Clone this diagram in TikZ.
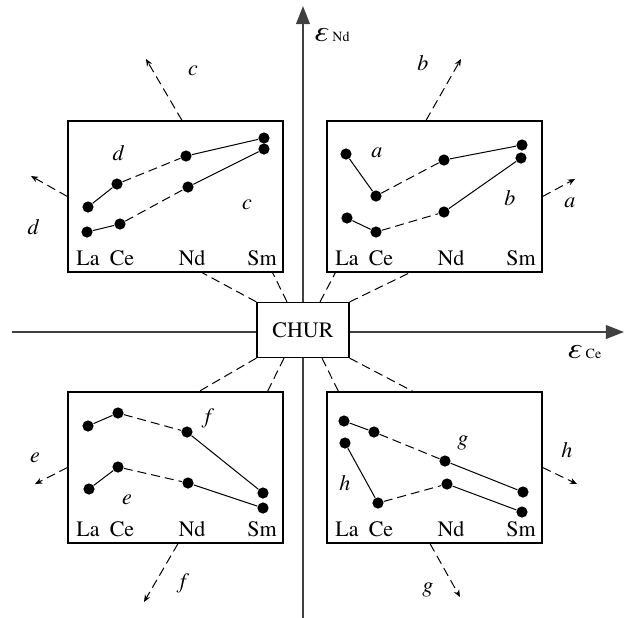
\documentclass[tikz,border=0pt]{standalone}
\usepackage{fontspec}
\setmainfont{TeX Gyre Termes}
\usetikzlibrary{arrows.meta,positioning,calc}

\newcommand{\epsaxis}[1]{\textit{\fontsize{15}{15}\selectfont ε}\,{\fontsize{7}{8}\selectfont #1}}

\begin{document}
\begin{tikzpicture}[
  x=0.5pt, y=-0.5pt,
  every node/.style = {font=\fontsize{11}{13}\selectfont\rmfamily},
  axis/.style   = {draw=black!75, line width=0.9pt,
                   -{Triangle[length=9pt,width=6.8pt]}},
  panel/.style  = {draw, line width=0.6pt, inner sep=0pt,
                   minimum width=107.5pt, minimum height=75.5pt},
  ptdot/.style  = {circle, fill, inner sep=0pt, minimum size=5.6pt},
  link/.style   = {line width=0.5pt, dash pattern=on 4.5pt off 2.5pt},
  trend/.style  = {link, -{Stealth[length=3.6pt,width=3pt]}},
  tag/.style    = {font=\fontsize{11}{13}\selectfont\itshape, inner sep=1pt},
  elem/.style   = {inner sep=0pt, anchor=base},
]
\useasboundingbox (0,0) rectangle (629,618);

%% ── Panel corner positions ───────────────────────────────────────────────────
\def\xA{68}   % left column
\def\xB{327}  % right column
\def\yA{121}  % upper row
\def\yB{392}  % lower row

%% ── Axes and CHUR ────────────────────────────────────────────────────────────
\coordinate (xstart) at (12,332);
\coordinate (xend)   at (624,332);
\coordinate (ystart) at (303,618);
\coordinate (yend)   at (303,6);
\draw[axis] (xstart) -- (xend);
\draw[axis] (ystart) -- (yend);
\node[anchor=west, inner sep=0pt] (epsnd) at (313,35) {\epsaxis{Nd}};
\node[inner sep=0pt] (epsce) at (584,352) {\epsaxis{Ce}};
\node[draw, fill=white, line width=0.6pt, minimum width=46pt, minimum height=27.5pt]
  (chur) at (303,330) {CHUR};

%% ── Panel boxes ──────────────────────────────────────────────────────────────
\node[panel] (ul) at (\xA+107.5,\yA+75.5) {};
\node[panel] (ur) at (\xB+107.5,\yA+75.5) {};
\node[panel] (ll) at (\xA+107.5,\yB+75.5) {};
\node[panel] (lr) at (\xB+107.5,\yB+75.5) {};

%% ── Links from CHUR to the panels ────────────────────────────────────────────
\draw[link] (chur.north west) -- ($(ul.south)+(26.5,0)$);
\draw[link] ($(chur.north)+(-16,0)$) -- ($(ul.south east)+(-11,0)$);
\draw[link] ($(chur.north)+(17,0)$) -- ($(ur.south west)+(9,0)$);
\draw[link] (chur.north east) -- ($(ur.south)+(-24.5,0)$);
\draw[link] (chur.south west) -- ($(ll.north)+(23.5,0)$);
\draw[link] ($(chur.south)+(-19,0)$) -- ($(ll.north east)+(-16,0)$);
\draw[link] ($(chur.south)+(19,0)$) -- ($(lr.north west)+(12,0)$);
\draw[link] (chur.south east) -- ($(lr.north)+(-21.5,0)$);

%% ── Element names under each panel ───────────────────────────────────────────
\foreach \p/\x/\y in {ul/\xA/\yA, ur/\xB/\yA, ll/\xA/\yB, lr/\xB/\yB} {
  \node[elem] (\p La) at (\x+20,\y+144) {La};
  \node[elem] (\p Ce) at (\x+54,\y+144) {Ce};
  \node[elem] (\p Nd) at (\x+124,\y+144) {Nd};
  \node[elem] (\p Sm) at (\x+194,\y+144) {Sm};
}

%% ── Upper left panel: c and d ────────────────────────────────────────────────
\node[ptdot] (ulLa1) at (\xA+20,\yA+86) {};
\node[ptdot] (ulCe1) at (\xA+49,\yA+63) {};
\node[ptdot] (ulNd1) at (\xA+118,\yA+35) {};
\node[ptdot] (ulSm1) at (\xA+196,\yA+17) {};
\node[ptdot] (ulLa2) at (\xA+19,\yA+111) {};
\node[ptdot] (ulCe2) at (\xA+52,\yA+103) {};
\node[ptdot] (ulNd2) at (\xA+120,\yA+66) {};
\node[ptdot] (ulSm2) at (\xA+196,\yA+28) {};
\draw[line width=0.5pt] (ulLa1) -- (ulCe1) (ulNd1) -- (ulSm1)
                        (ulLa2) -- (ulCe2) (ulNd2) -- (ulSm2);
\draw[link] (ulCe1) -- (ulNd1) (ulCe2) -- (ulNd2);
\node[tag] (ultagd) at (\xA+50,\yA+32) {d};
\node[tag] (ultagc) at (\xA+179,\yA+84) {c};

%% ── Upper right panel: a and b ───────────────────────────────────────────────
\node[ptdot] (urLa1) at (\xB+19,\yA+33) {};
\node[ptdot] (urCe1) at (\xB+49,\yA+75) {};
\node[ptdot] (urNd1) at (\xB+117,\yA+39) {};
\node[ptdot] (urSm1) at (\xB+195,\yA+24) {};
\node[ptdot] (urLa2) at (\xB+20,\yA+97) {};
\node[ptdot] (urCe2) at (\xB+49,\yA+111) {};
\node[ptdot] (urNd2) at (\xB+117,\yA+91) {};
\node[ptdot] (urSm2) at (\xB+194,\yA+37) {};
\draw[line width=0.5pt] (urLa1) -- (urCe1) (urNd1) -- (urSm1)
                        (urLa2) -- (urCe2) (urNd2) -- (urSm2);
\draw[link] (urCe1) -- (urNd1) (urCe2) -- (urNd2);
\node[tag] (urtaga) at (\xB+50,\yA+32) {a};
\node[tag] (urtagb) at (\xB+183,\yA+77) {b};

%% ── Lower left panel: e and f ────────────────────────────────────────────────
\node[ptdot] (llLa1) at (\xA+20,\yB+34) {};
\node[ptdot] (llCe1) at (\xA+50,\yB+21) {};
\node[ptdot] (llNd1) at (\xA+119,\yB+40) {};
\node[ptdot] (llSm1) at (\xA+195,\yB+101) {};
\node[ptdot] (llLa2) at (\xA+21,\yB+97) {};
\node[ptdot] (llCe2) at (\xA+50,\yB+75) {};
\node[ptdot] (llNd2) at (\xA+120,\yB+91) {};
\node[ptdot] (llSm2) at (\xA+195,\yB+116) {};
\draw[line width=0.5pt] (llLa1) -- (llCe1) (llNd1) -- (llSm1)
                        (llLa2) -- (llCe2) (llNd2) -- (llSm2);
\draw[link] (llCe1) -- (llNd1) (llCe2) -- (llNd2);
\node[tag] (lltagf) at (\xA+140,\yB+26) {f};
\node[tag] (lltage) at (\xA+59,\yB+108) {e};

%% ── Lower right panel: g and h ───────────────────────────────────────────────
\node[ptdot] (lrLa1) at (\xB+17,\yB+29) {};
\node[ptdot] (lrCe1) at (\xB+47,\yB+40) {};
\node[ptdot] (lrNd1) at (\xB+118,\yB+69) {};
\node[ptdot] (lrSm1) at (\xB+196,\yB+100) {};
\node[ptdot] (lrLa2) at (\xB+18,\yB+51) {};
\node[ptdot] (lrCe2) at (\xB+51,\yB+111) {};
\node[ptdot] (lrNd2) at (\xB+120,\yB+92) {};
\node[ptdot] (lrSm2) at (\xB+195,\yB+120) {};
\draw[line width=0.5pt] (lrLa1) -- (lrCe1) (lrNd1) -- (lrSm1)
                        (lrLa2) -- (lrCe2) (lrNd2) -- (lrSm2);
\draw[link] (lrCe1) -- (lrNd1) (lrCe2) -- (lrNd2);
\node[tag] (lrtagg) at (\xB+136,\yB+51) {g};
\node[tag] (lrtagh) at (\xB+18,\yB+91) {h};

%% ── Trend arrows out of the panels ───────────────────────────────────────────
\coordinate (tipc) at (146,59);
\coordinate (tipd) at (31,176);
\coordinate (tipb) at (461,59);
\coordinate (tipa) at (575,179);
\coordinate (tipe) at (35,484);
\coordinate (tipf) at (144,602);
\coordinate (tiph) at (577,484);
\coordinate (tipg) at (460,597);
\draw[trend] ($(ul.north)+(6.5,0)$) -- (tipc);
\draw[trend] (ul.west) -- (tipd);
\draw[trend] ($(ur.north)+(-8.5,0)$) -- (tipb);
\draw[trend] (ur.east) -- (tipa);
\draw[trend] (ll.west) -- (tipe);
\draw[trend] ($(ll.south)+(2.5,0)$) -- (tipf);
\draw[trend] (lr.east) -- (tiph);
\draw[trend] ($(lr.south)+(-4.5,0)$) -- (tipg);
\node[tag] (tagc) at (193,71) {c};
\node[tag] (tagd) at (33,227) {d};
\node[tag] (tagb) at (423,63) {b};
\node[tag] (taga) at (570,203) {a};
\node[tag] (tage) at (35,458) {e};
\node[tag] (tagf) at (183,583) {f};
\node[tag] (tagh) at (567,450) {h};
\node[tag] (tagg) at (428,590) {g};

\end{tikzpicture}
\end{document}
